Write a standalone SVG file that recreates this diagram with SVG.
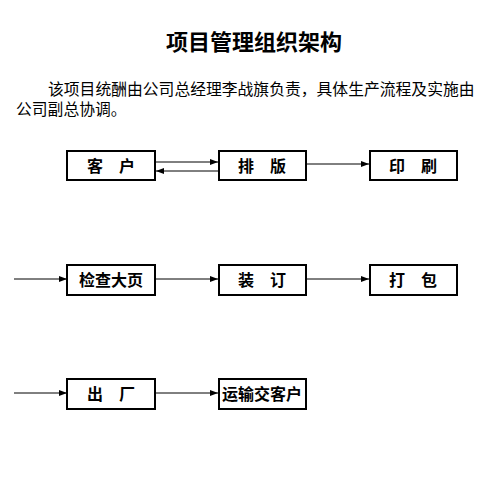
<svg xmlns="http://www.w3.org/2000/svg" width="494" height="478" viewBox="0 0 494 478">
<style>
text{font-family:"Noto Sans CJK SC","Noto Sans CJK TC",sans-serif;fill:#000}
.t{font-size:22px;font-weight:bold}
.p{font-size:15.8px}
.n rect{fill:#fff;stroke:#000;stroke-width:2}
.n text{font-size:16px;font-weight:bold;text-anchor:middle}
.c line{stroke:#000;stroke-width:1;marker-end:url(#a)}
</style>
<defs>
<marker id="a" viewBox="0 0 8 6" refX="8" refY="3" markerWidth="8" markerHeight="6" markerUnits="userSpaceOnUse" orient="auto">
<path d="M0,0L8,3L0,6z" fill="#000"/>
</marker>
</defs>
<rect width="494" height="478" fill="#fff"/>
<text class="t" x="254" y="50" text-anchor="middle">项目管理组织架构</text>
<text class="p" x="48" y="95">该项目统酬由公司总经理李战旗负责，具体生产流程及实施由</text>
<text class="p" x="16" y="115">公司副总协调。</text>
<g class="c">
<line x1="156" y1="162" x2="218" y2="162"/>
<line x1="218" y1="171" x2="156" y2="171"/>
<line x1="306" y1="164" x2="369" y2="164"/>
<line x1="14" y1="279" x2="67" y2="279"/>
<line x1="156" y1="279" x2="218" y2="279"/>
<line x1="306" y1="279" x2="369" y2="279"/>
<line x1="14" y1="393" x2="67" y2="393"/>
<line x1="156" y1="393" x2="218" y2="393"/>
</g>
<g id="kehu" class="n"><rect x="67" y="151" width="88" height="29"/><text x="111" y="172">客　户</text></g>
<g id="paiban" class="n"><rect x="219" y="151" width="87" height="29"/><text x="262" y="172">排　版</text></g>
<g id="yinshua" class="n"><rect x="370" y="151" width="87" height="29"/><text x="413" y="172">印　刷</text></g>
<g id="jiancha" class="n"><rect x="67" y="265" width="88" height="30"/><text x="111" y="286">检查大页</text></g>
<g id="zhuangding" class="n"><rect x="219" y="265" width="87" height="30"/><text x="262" y="286">装　订</text></g>
<g id="dabao" class="n"><rect x="370" y="265" width="87" height="30"/><text x="413" y="286">打　包</text></g>
<g id="chuchang" class="n"><rect x="67" y="379" width="88" height="30"/><text x="111" y="400">出　厂</text></g>
<g id="yunshu" class="n"><rect x="219" y="379" width="87" height="30"/><text x="262" y="400">运输交客户</text></g>
</svg>
